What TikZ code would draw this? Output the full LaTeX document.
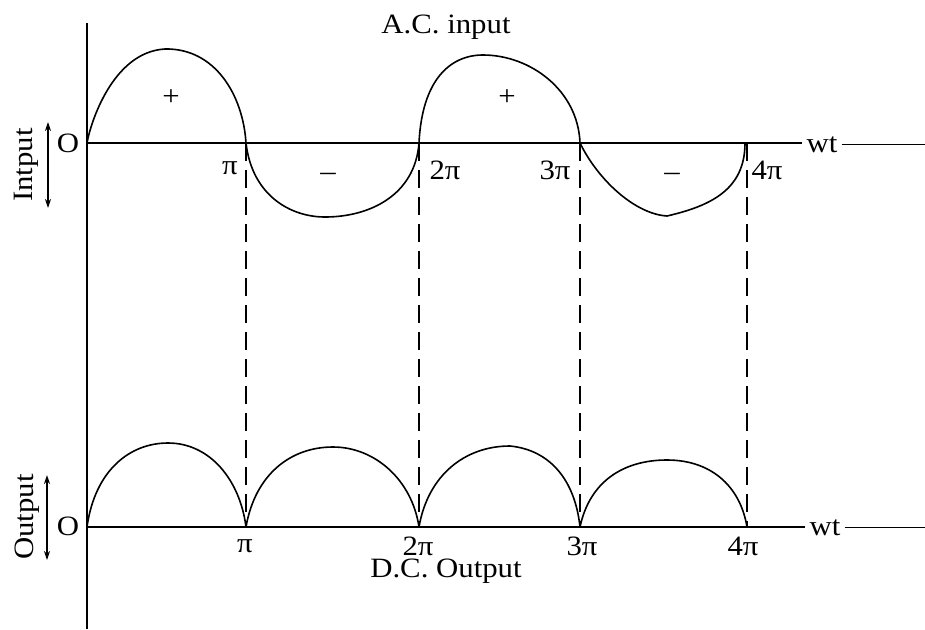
\documentclass[tikz,border=0pt]{standalone}
\usepackage{fontspec}
\setmainfont{Liberation Serif}[FakeStretch=1.1]
\usetikzlibrary{arrows.meta}

\begin{document}
\begin{tikzpicture}[x=1pt,y=-1pt]
  \tikzset{
    axisline/.style={draw=black,line width=1.5pt},
    wavecurve/.style={draw=black,line width=1.6pt,line join=round},
    guideline/.style={draw=black,line width=1.5pt,dash pattern=on 18pt off 9pt},
    sidearrow/.style={
      {Stealth[length=9pt,width=6pt]}-{Stealth[length=9pt,width=6pt]},
      draw=black,
      line width=1.3pt
    },
    wavetext/.style={font=\fontsize{28}{30}\selectfont,inner sep=0pt},
    ticktext/.style={wavetext,anchor=base},
    sidetext/.style={wavetext,anchor=base,rotate=90},
    axisend/.style={wavetext,inner sep=4pt,anchor=base}
  }
  \useasboundingbox (0,0) rectangle (925,629);

  % ------------------------------------------------------------------
  % Axes
  % ------------------------------------------------------------------
  \coordinate (vaxis-top) at (87,23);
  \coordinate (vaxis-bot) at (87,629);
  \coordinate (in-o) at (87,143);
  \coordinate (in-p1) at (246,143);
  \coordinate (in-p2) at (419,143);
  \coordinate (in-p3) at (580,143);
  \coordinate (in-p4) at (747,143);
  \coordinate (in-tail) at (925,145);
  \coordinate (out-o) at (87,527);
  \coordinate (out-p1) at (246,527);
  \coordinate (out-p2) at (419,527);
  \coordinate (out-p3) at (580,527);
  \coordinate (out-p4) at (747,527);
  \coordinate (out-tail) at (925,530);

  \node[axisend] (in-wt) at (822,152) {wt};
  \node[axisend] (out-wt) at (825,535) {wt};

  \draw[axisline] (vaxis-top) -- (vaxis-bot);
  \draw[axisline] (in-o) -- (in-o -| in-wt.west);
  \draw[axisline] (in-wt.east) -- (in-wt.east -| in-tail);
  \draw[axisline] (out-o) -- (out-o -| out-wt.west);
  \draw[axisline] (out-wt.east) -- (out-wt.east -| out-tail);

  % guides from the input crossings down to the output axis
  \draw[guideline] (in-p1) -- (out-p1);
  \draw[guideline] (in-p2) -- (out-p2);
  \draw[guideline] (in-p3) -- (out-p3);
  \draw[guideline] (in-p4) -- (out-p4);

  % ------------------------------------------------------------------
  % A.C. input wave
  % ------------------------------------------------------------------
  \draw[wavecurve] (in-o)
    .. controls (90,125) and (112,52) .. (165,49)
    .. controls (215,48) and (243,95) .. (in-p1)
    .. controls (252,195) and (290,217) .. (325,217)
    .. controls (370,217) and (415,195) .. (in-p2)
    .. controls (422,80) and (450,55) .. (483,55)
    .. controls (530,55) and (578,90) .. (in-p3)
    .. controls (598,180) and (635,214) .. (667,216)
    .. controls (710,206) and (745,190) .. (745,143);

  \node[ticktext] (ac-title) at (446,33) {A.C. input};
  \node[wavetext] (in-plus1) at (171,98) {+};
  \node[wavetext] (in-plus2) at (507,98) {+};
  \node[wavetext] (in-minus1) at (328,177) {–};
  \node[wavetext] (in-minus2) at (672,177) {–};
  \node[ticktext] (in-o-label) at (68,152) {O};
  \node[ticktext] (in-pi1) at (230,174) {π};
  \node[ticktext] (in-pi2) at (445,179) {2π};
  \node[ticktext] (in-pi3) at (555,179) {3π};
  \node[ticktext] (in-pi4) at (767,179) {4π};

  \coordinate (in-arrow-top) at (48,122);
  \coordinate (in-arrow-bot) at (48,208);
  \draw[sidearrow] (in-arrow-top) -- (in-arrow-bot);
  \node[sidetext] (in-side) at (32,165) {Intput};

  % ------------------------------------------------------------------
  % D.C. output wave
  % ------------------------------------------------------------------
  \draw[wavecurve] (out-o)
    .. controls (95,470) and (130,443) .. (168,443)
    .. controls (210,443) and (240,480) .. (out-p1)
    .. controls (255,475) and (290,447) .. (333,447)
    .. controls (375,447) and (412,480) .. (out-p2)
    .. controls (428,475) and (465,446) .. (510,446)
    .. controls (550,450) and (575,480) .. (out-p3)
    .. controls (590,480) and (625,460) .. (667,460)
    .. controls (710,460) and (740,485) .. (out-p4);

  \node[ticktext] (out-o-label) at (68,535) {O};
  \node[ticktext] (out-pi1) at (245,552) {π};
  \node[ticktext] (out-pi2) at (418,555) {2π};
  \node[ticktext] (out-pi3) at (582,555) {3π};
  \node[ticktext] (out-pi4) at (743,555) {4π};
  \node[ticktext] (dc-title) at (446,577) {D.C. Output};

  \coordinate (out-arrow-top) at (47,475);
  \coordinate (out-arrow-bot) at (47,560);
  \draw[sidearrow] (out-arrow-top) -- (out-arrow-bot);
  \node[sidetext] (out-side) at (33,517) {Output};
\end{tikzpicture}
\end{document}
